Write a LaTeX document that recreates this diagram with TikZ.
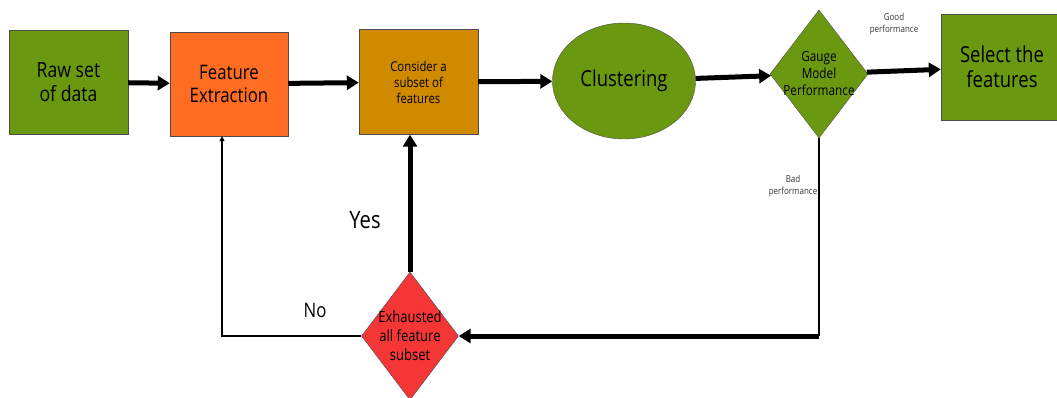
\documentclass[tikz,border=0pt]{standalone}
\usepackage{fontspec}
\setmainfont{Open Sans}[FakeStretch=0.84]
\usepackage{tikz}
\usetikzlibrary{arrows.meta,positioning,shapes.geometric}
\definecolor{leaf}{RGB}{106,152,17}
\definecolor{carrot}{RGB}{255,109,34}
\definecolor{amber}{RGB}{208,138,0}
\definecolor{alarm}{RGB}{244,54,54}

\begin{document}
\begin{tikzpicture}[x=1pt,y=-1pt,>={Triangle[length=12pt,width=14pt]},thin]
\tikzstyle{box}=[shape=rectangle,draw=black!70,text=black,align=center,inner sep=2pt]
\tikzstyle{fat}=[->,line width=5pt]
\tikzstyle{lean}=[-{Triangle[length=5pt,width=5pt]},line width=1.5pt]
\tikzstyle{small}=[align=center,font=\fontsize{9.5}{12}\selectfont,text=black!80]

\useasboundingbox (0,0) rectangle (1057,398);

\node[box,fill=leaf,minimum width=119,minimum height=104,font=\fontsize{21}{24}\selectfont] (A) at (68.5,82) {Raw set\\of data};
\node[box,fill=carrot,minimum width=118,minimum height=104,font=\fontsize{20}{23}\selectfont] (B) at (229,84) {Feature\\Extraction};
\node[box,fill=amber,minimum width=119,minimum height=105,font=\fontsize{13.5}{16}\selectfont] (C) at (418.5,82) {Consider a\\subset of\\features};
\node[box,shape=ellipse,fill=leaf,minimum width=143,minimum height=116,font=\fontsize{22}{25}\selectfont] (D) at (624,81) {Clustering};
\node[box,shape=diamond,fill=leaf,minimum width=98,minimum height=128,
      label={[align=center,font=\fontsize{14}{17}\selectfont]center:Gauge\\Model\\Performance}] (E) at (819,74) {};
\node[box,fill=leaf,minimum width=122,minimum height=106,font=\fontsize{22}{25}\selectfont] (F) at (1002,67) {Select the\\features};
\node[box,shape=diamond,fill=alarm,minimum width=97,minimum height=128,
      label={[align=center,font=\fontsize{15.5}{19}\selectfont]center:Exhausted\\all feature\\subset}] (G) at (410,336) {};

\coordinate (H) at (E.south |- G.east);

\node[font=\fontsize{24}{28}\selectfont] (Y) at (365,220) {Yes};
\node[font=\fontsize{20}{24}\selectfont] (N) at (315,310) {No};
\node[small] (P) at (894,24) {Good\\performance};
\node[small] (Q) at (793,186) {Bad\\performance};

\path
(A) edge[fat] (B)
(B) edge[fat] (C)
(C) edge[fat] (D)
(D) edge[fat] (E)
(E) edge[fat] (F)
(G.north) edge[fat] (G.north |- C.south)
(H) edge[fat] (G.east);
\draw[line width=2pt] (E.south) -- (H);
\draw[lean] (G.west) -| ([xshift=-7]B.south);
\end{tikzpicture}
\end{document}
